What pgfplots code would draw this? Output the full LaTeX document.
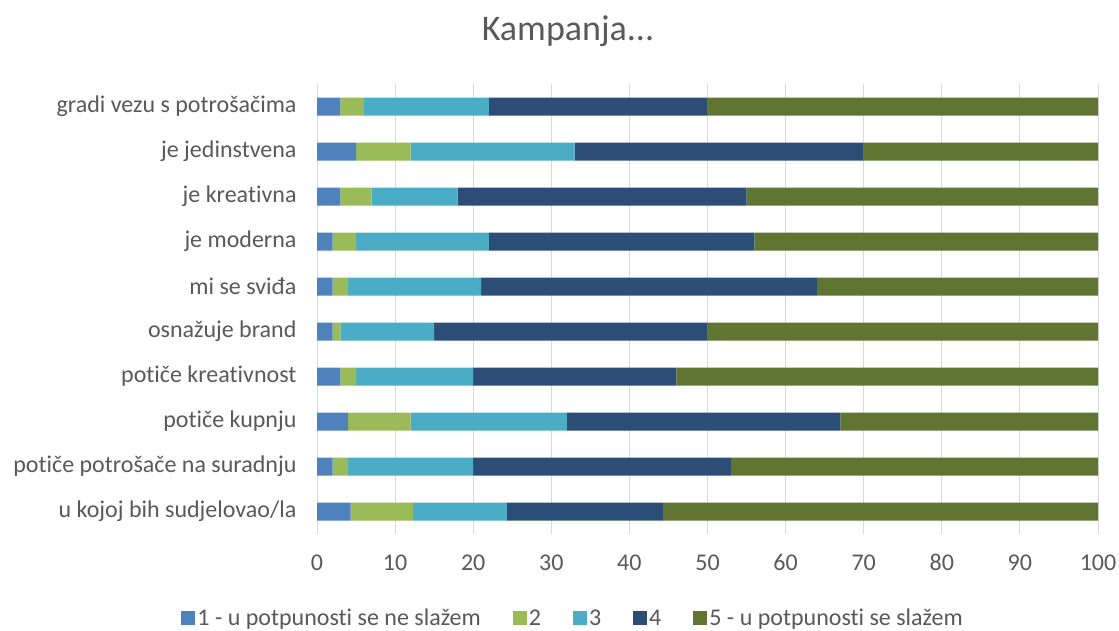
\documentclass[border=0pt]{standalone}
\usepackage{pgfplots}
\pgfplotsset{compat=1.18}
\usepackage{pgfplotstable}
\usepackage{fontspec}
\setmainfont{Carlito}[Ligatures=NoCommon]
\definecolor{cA}{HTML}{4F81BD}
\definecolor{cB}{HTML}{9BBB59}
\definecolor{cC}{HTML}{4BACC6}
\definecolor{cD}{HTML}{2C4E76}
\definecolor{cE}{HTML}{607531}
\definecolor{txt}{HTML}{595959}
\definecolor{grd}{HTML}{D9D9D9}
\pgfplotstableread{
y a b c d e
0 3 3 16 28 50
1 5 7 21 37 30
2 3 4 11 37 45
3 2 3 17 34 44
4 2 2 17 43 36
5 2 1 12 35 50
6 3 2 15 26 54
7 4 8 20 35 33
8 2 2 16 33 47
9 4.3 8 12 20 56
}\datatable
\begin{document}
\begin{tikzpicture}
\useasboundingbox (0pt,0pt) rectangle (1119pt,630pt);
\node[text=txt,font=\fontsize{36}{40}\selectfont] at (568pt,599pt) {Kampanja...};
\begin{axis}[
  at={(317pt,96pt)}, anchor=south west,
  scale only axis, width=781pt, height=450pt,
  xbar stacked, bar width=18pt,
  xmin=0, xmax=100, ymin=-0.5, ymax=9.5,
  y dir=reverse,
  xtick={0,10,...,100},
  ytick={0,...,9},
  yticklabels={gradi vezu s potrošačima, je jedinstvena, je kreativna, je moderna, mi se sviđa, osnažuje brand, potiče kreativnost, potiče kupnju, potiče potrošače na suradnju, u kojoj bih sudjelovao/la},
  xmajorgrids, grid style={grd, line width=1pt},
  axis x line*=bottom, axis y line*=left,
  x axis line style={draw=none},
  y axis line style={grd, line width=1pt},
  major tick length=0pt,
  tick label style={text=txt, font=\fontsize{24}{28}\selectfont},
  /pgf/number format/assume math mode=true,
  xticklabel style={yshift=-17pt},
  yticklabel style={xshift=-17pt},
  legend columns=5,
  legend style={at={(0.328,-0.187)}, anchor=center, draw=none, font=\fontsize{24}{28}\selectfont, text=txt,
    /tikz/every even column/.append style={column sep=30pt}},
  legend image code/.code={\fill[#1,draw=none] (0pt,-7pt) rectangle (14pt,7pt);},
]
\addplot[fill=cA,draw=none] table[x=a,y=y]{\datatable};
\addplot[fill=cB,draw=none] table[x=b,y=y]{\datatable};
\addplot[fill=cC,draw=none] table[x=c,y=y]{\datatable};
\addplot[fill=cD,draw=none] table[x=d,y=y]{\datatable};
\addplot[fill=cE,draw=none] table[x=e,y=y]{\datatable};
\legend{1 - u potpunosti se ne slažem, 2, 3, 4, 5 - u potpunosti se slažem}
\end{axis}
\end{tikzpicture}
\end{document}
